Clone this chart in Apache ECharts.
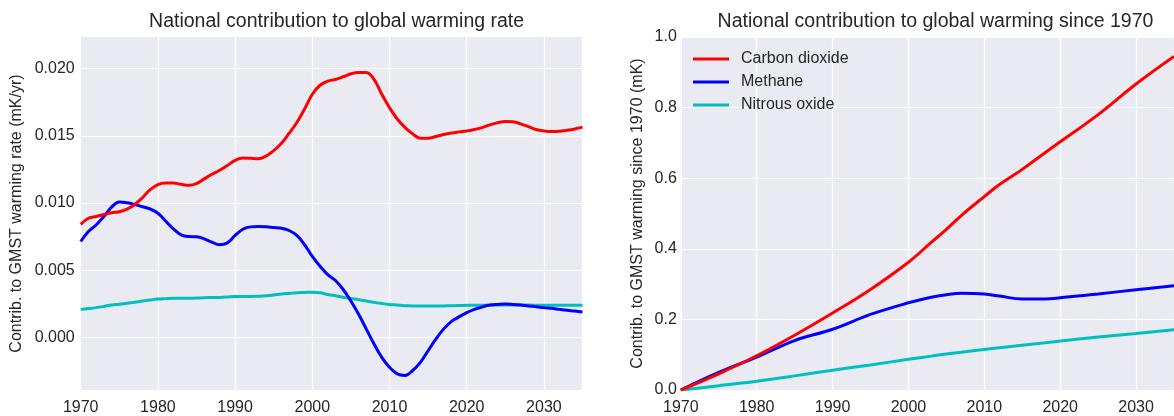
<!DOCTYPE html>
<html>
<head>
<meta charset="utf-8">
<script src="https://cdn.jsdelivr.net/npm/echarts@6/dist/echarts.min.js"></script>
<style>
html,body{margin:0;padding:0;background:#ffffff;}
#chart{width:1174px;height:416px;}
</style>
</head>
<body>
<div id="chart"></div>
<script>
// ---- data ----
const seriesNames = ['Carbon dioxide', 'Methane', 'Nitrous oxide'];
const seriesColors = ['#ff0000', '#0000ff', '#00bfbf'];

// left panel: warming rate (mK/yr), annual 1970-2035
const rateYears = [];
for (let y = 1970; y <= 2035; y++) rateYears.push(y);
const rateCO2 = [
  0.00842,0.00887,0.00900,0.00915,0.00928,0.00936,0.00955,0.00990,0.01040,0.01100,
  0.01138,0.01150,0.01150,0.01140,0.01133,0.01145,0.01180,0.01215,0.01244,0.01280,
  0.01318,0.01335,0.01333,0.01330,0.01350,0.01390,0.01445,0.01520,0.01600,0.01700,
  0.01810,0.01877,0.01908,0.01920,0.01940,0.01962,0.01972,0.01972,0.01920,0.01810,
  0.01710,0.01626,0.01564,0.01515,0.01483,0.01483,0.01495,0.01510,0.01522,0.01530,
  0.01537,0.01547,0.01562,0.01582,0.01598,0.01608,0.01606,0.01589,0.01569,0.01548,
  0.01537,0.01532,0.01534,0.01542,0.01552,0.01565
];
const rateCH4 = [
  0.00714,0.00788,0.00837,0.00900,0.00970,0.01008,0.01003,0.00990,0.00973,0.00956,
  0.00924,0.00867,0.00808,0.00764,0.00751,0.00749,0.00734,0.00709,0.00690,0.00704,
  0.00759,0.00805,0.00823,0.00825,0.00823,0.00818,0.00813,0.00796,0.00759,0.00690,
  0.00603,0.00530,0.00468,0.00424,0.00357,0.00271,0.00172,0.00062,-0.00049,-0.00148,
  -0.00222,-0.00271,-0.00283,-0.00246,-0.00185,-0.00099,-0.00012,0.00062,0.00118,0.00153,
  0.00185,0.00209,0.00227,0.00241,0.00246,0.00249,0.00246,0.00241,0.00234,0.00229,
  0.00222,0.00217,0.00209,0.00202,0.00197,0.00190
];
const rateN2O = [
  0.00209,0.00215,0.00222,0.00231,0.00241,0.00247,0.00254,0.00262,0.00271,0.00279,
  0.00286,0.00289,0.00291,0.00291,0.00291,0.00293,0.00296,0.00297,0.00298,0.00301,
  0.00305,0.00305,0.00305,0.00307,0.00310,0.00316,0.00323,0.00328,0.00333,0.00335,
  0.00337,0.00332,0.00320,0.00310,0.00300,0.00290,0.00281,0.00271,0.00261,0.00253,
  0.00246,0.00241,0.00236,0.00235,0.00234,0.00234,0.00234,0.00235,0.00236,0.00237,
  0.00239,0.00239,0.00239,0.00240,0.00241,0.00241,0.00241,0.00241,0.00241,0.00240,
  0.00239,0.00239,0.00239,0.00239,0.00239,0.00239
];

// right panel: cumulative warming since 1970 (mK)
const cumYears = [1970,1975,1980,1985,1990,1995,2000,2003,2005,2007,2010,2012,2015,2018,2020,2025,2030,2035];
const cumCO2 = [0,0.046,0.097,0.155,0.218,0.285,0.362,0.418,0.455,0.495,0.548,0.582,0.625,0.672,0.703,0.780,0.867,0.945];
const cumCH4 = [0,0.050,0.093,0.140,0.172,0.214,0.247,0.263,0.270,0.274,0.272,0.266,0.258,0.258,0.261,0.272,0.284,0.295];
const cumN2O = [0,0.012,0.025,0.040,0.056,0.071,0.087,0.096,0.102,0.107,0.115,0.120,0.127,0.134,0.139,0.150,0.160,0.171];

const leftTicks = [0, 0.005, 0.010, 0.015, 0.020];
const rightTicks = [0, 0.2, 0.4, 0.6, 0.8, 1.0];
const xTickStep = 10;

// ---- chart ----
const FONT = 'Liberation Sans, Arial, sans-serif';
const TXT = '#262626';
const chart = echarts.init(document.getElementById('chart'), null, {renderer: 'canvas'});

function pairs(xs, ys) { return xs.map((x, i) => [x, ys[i]]); }

function xAxisDef(idx) {
  return {
    type: 'value', gridIndex: idx, min: 1970, max: 2035, interval: xTickStep,
    axisLine: {show: false}, axisTick: {show: false},
    splitLine: {show: true, lineStyle: {color: '#ffffff', width: 1.2}},
    axisLabel: {color: TXT, fontFamily: FONT, fontSize: 16, margin: 10,
      formatter: v => String(v), showMaxLabel: false}
  };
}

const option = {
  backgroundColor: '#ffffff',
  animation: false,
  title: [
    {text: 'National contribution to global warming rate', left: 331.6, top: 7, textAlign: 'center',
     textStyle: {color: TXT, fontFamily: FONT, fontSize: 19.5, fontWeight: 'normal'}},
    {text: 'National contribution to global warming since 1970', left: 930.5, top: 7, textAlign: 'center',
     textStyle: {color: TXT, fontFamily: FONT, fontSize: 19.5, fontWeight: 'normal'}}
  ],
  legend: {
    data: seriesNames,
    orient: 'vertical', left: 693, top: 51,
    icon: 'rect', itemWidth: 36, itemHeight: 3, itemGap: 7,
    textStyle: {color: TXT, fontFamily: FONT, fontSize: 16, padding: [0, 0, 0, 7]},
    padding: 0
  },
  grid: [
    {left: 80.7, top: 37, width: 501.8, height: 356, backgroundColor: '#eaeaf2', show: true, borderWidth: 0},
    {left: 680.8, top: 37, width: 500.5, height: 356, backgroundColor: '#eaeaf2', show: true, borderWidth: 0}
  ],
  xAxis: [xAxisDef(0), xAxisDef(1)],
  yAxis: [
    {type: 'value', gridIndex: 0, min: -0.00391, max: 0.02236,
     axisLine: {show: false},
     axisTick: {show: false, customValues: leftTicks},
     splitLine: {show: true, lineStyle: {color: '#ffffff', width: 1.2}},
     axisLabel: {color: TXT, fontFamily: FONT, fontSize: 16, margin: 6, customValues: leftTicks,
       formatter: v => v.toFixed(3)},
     name: 'Contrib. to GMST warming rate (mK/yr)', nameLocation: 'middle', nameGap: 56,
     nameTextStyle: {color: TXT, fontFamily: FONT, fontSize: 16}},
    {type: 'value', gridIndex: 1, min: 0, max: 1.0, interval: 0.2,
     axisLine: {show: false}, axisTick: {show: false},
     splitLine: {show: true, lineStyle: {color: '#ffffff', width: 1.2}},
     axisLabel: {color: TXT, fontFamily: FONT, fontSize: 16, margin: 4,
       formatter: v => v.toFixed(1)},
     name: 'Contrib. to GMST warming since 1970 (mK)', nameLocation: 'middle', nameGap: 35,
     nameTextStyle: {color: TXT, fontFamily: FONT, fontSize: 16}}
  ],
  series: [
    ...[rateCO2, rateCH4, rateN2O].map((d, i) => ({
      name: seriesNames[i], type: 'line', xAxisIndex: 0, yAxisIndex: 0,
      data: pairs(rateYears, d), smooth: 0.4, showSymbol: false, symbol: 'none',
      lineStyle: {color: seriesColors[i], width: 3}, itemStyle: {color: seriesColors[i]},
      clip: true, z: 3 - i
    })),
    ...[cumCO2, cumCH4, cumN2O].map((d, i) => ({
      name: seriesNames[i], type: 'line', xAxisIndex: 1, yAxisIndex: 1,
      data: pairs(cumYears, d), smooth: 0.4, showSymbol: false, symbol: 'none',
      lineStyle: {color: seriesColors[i], width: 3}, itemStyle: {color: seriesColors[i]},
      clip: true, z: 3 - i
    }))
  ]
};
chart.setOption(option);
</script>
</body>
</html>
